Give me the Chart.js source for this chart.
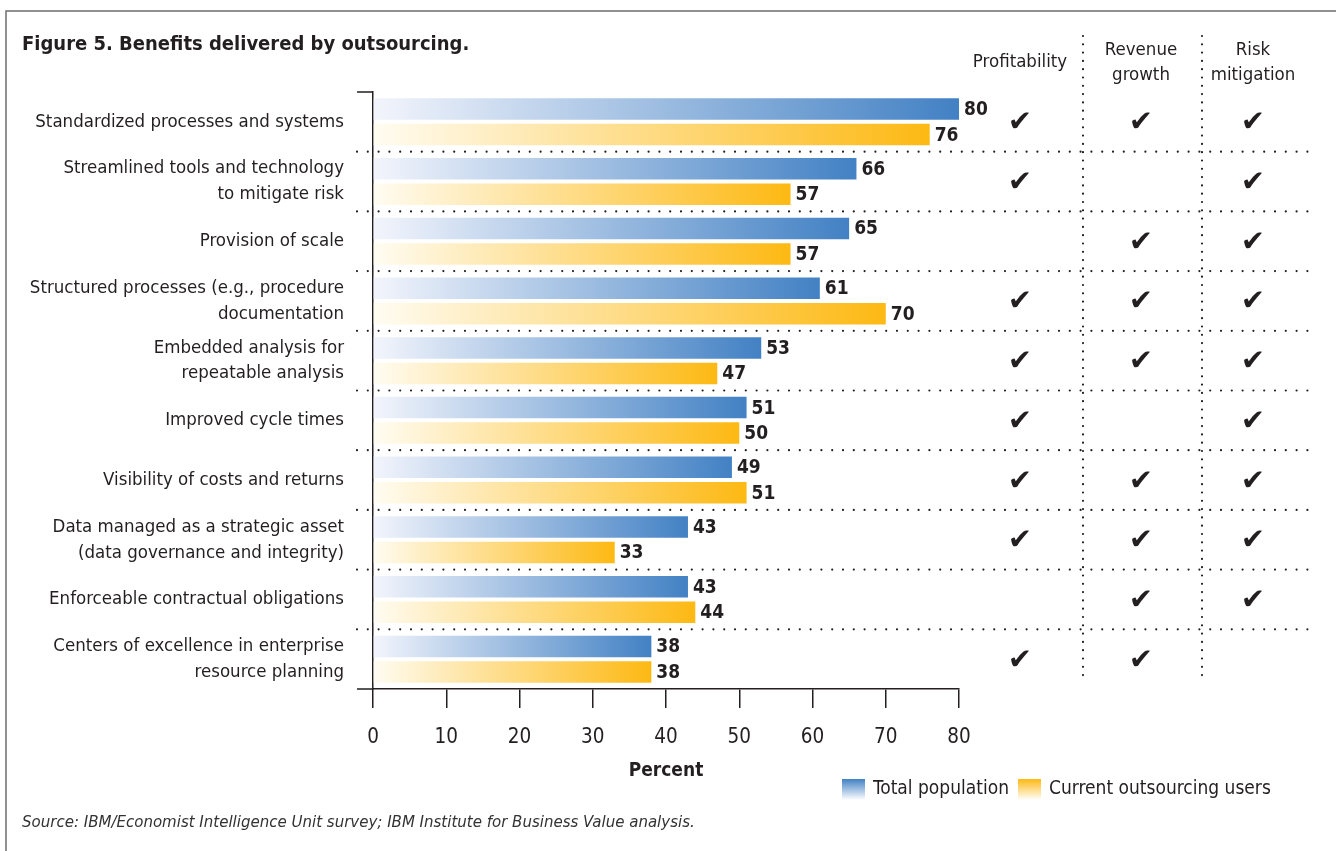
<!DOCTYPE html>
<html>
<head>
<meta charset="utf-8">
<script src="https://cdn.jsdelivr.net/npm/chart.js@4.4.1/dist/chart.umd.min.js"></script>
<style>
  html, body { margin: 0; padding: 0; background: #fff; }
  #wrap { width: 1336px; height: 851px; position: relative; }
</style>
</head>
<body>
<div id="wrap"><canvas id="benefitsChart"></canvas></div>
<script>
// ---- data ----
var categories = [
    "Standardized processes and systems",
    ["Streamlined tools and technology", "to mitigate risk"],
    "Provision of scale",
    ["Structured processes (e.g., procedure", "documentation"],
    ["Embedded analysis for", "repeatable analysis"],
    "Improved cycle times",
    "Visibility of costs and returns",
    ["Data managed as a strategic asset", "(data governance and integrity)"],
    "Enforceable contractual obligations",
    ["Centers of excellence in enterprise", "resource planning"]
];
var totalPopulation = [80, 66, 65, 61, 53, 51, 49, 43, 43, 38];
var currentUsers    = [76, 57, 57, 70, 47, 50, 51, 33, 44, 38];

var columnHeaders = [["Profitability"], ["Revenue", "growth"], ["Risk", "mitigation"]];
var profitability  = [1, 1, 0, 1, 1, 1, 1, 1, 0, 1];
var revenueGrowth  = [1, 0, 1, 1, 1, 0, 1, 1, 1, 1];
var riskMitigation = [1, 1, 1, 1, 1, 1, 1, 1, 1, 0];

var xTicks = [0, 10, 20, 30, 40, 50, 60, 70, 80];

var FONT = "'Liberation Sans Narrow', 'DejaVu Sans Condensed', 'Roboto', sans-serif";
var INK = "#231f20";
var BLUE = "#4281c4", BLUE_LIGHT = "#f3f5fc";
var GOLD = "#fdb913", GOLD_LIGHT = "#fffcf2";

function barGradient(endColor, startColor) {
    return function(c) {
        var chart = c.chart;
        if (!chart.chartArea || c.raw === undefined) return endColor;
        var xs = chart.scales.x;
        var x0 = xs.getPixelForValue(0);
        var x1 = xs.getPixelForValue(c.raw);
        var g = chart.ctx.createLinearGradient(x0, 0, x1, 0);
        g.addColorStop(0, startColor);
        g.addColorStop(1, endColor);
        return g;
    };
}

// everything outside the bars: separators, check columns, values, legend, source
var decorPlugin = {
    id: "decor",
    afterDraw: function(chart) {
        var ctx = chart.ctx;
        var area = chart.chartArea;
        var ys = chart.scales.y;
        var n = categories.length;
        var step = ys.getPixelForValue(1) - ys.getPixelForValue(0);

        ctx.save();

        // frame
        ctx.strokeStyle = "#6d6e71";
        ctx.lineWidth = 1.5;
        ctx.beginPath();
        ctx.moveTo(6, 851);
        ctx.lineTo(6, 11);
        ctx.lineTo(1336, 11);
        ctx.stroke();

        // small solid ticks at top and bottom of the y axis
        ctx.strokeStyle = INK;
        ctx.lineWidth = 1.5;
        ctx.beginPath();
        ctx.moveTo(357, area.top);
        ctx.lineTo(area.left, area.top);
        ctx.moveTo(357, area.bottom);
        ctx.lineTo(area.left, area.bottom);
        ctx.stroke();

        // dotted row separators
        ctx.lineCap = "round";
        ctx.lineWidth = 2.2;
        ctx.setLineDash([0, 10.8]);
        for (var i = 1; i < n; i++) {
            var yb = ys.getPixelForValue(i) - step / 2;
            ctx.beginPath();
            ctx.moveTo(357, yb);
            ctx.lineTo(1316, yb);
            ctx.stroke();
        }
        // dotted column dividers
        ctx.setLineDash([0, 8.3]);
        [1083, 1202].forEach(function(x) {
            ctx.beginPath();
            ctx.moveTo(x, 36);
            ctx.lineTo(x, 682);
            ctx.stroke();
        });
        ctx.setLineDash([]);

        // column headers
        var colX = [1020, 1141, 1253];
        ctx.fillStyle = INK;
        ctx.font = "18.5px " + FONT;
        ctx.textAlign = "center";
        ctx.textBaseline = "middle";
        columnHeaders.forEach(function(lines, c) {
            var y0 = lines.length === 1 ? 62 : 50;
            lines.forEach(function(t, k) {
                ctx.fillText(t, colX[c], y0 + k * 25);
            });
        });

        // check marks
        var cols = [profitability, revenueGrowth, riskMitigation];
        ctx.font = "29px 'DejaVu Sans', sans-serif";
        cols.forEach(function(arr, c) {
            arr.forEach(function(v, r) {
                if (v) ctx.fillText("\u2714", colX[c], ys.getPixelForValue(r) + 2);
            });
        });

        // value labels at bar ends
        ctx.font = "bold 19px " + FONT;
        ctx.textAlign = "left";
        chart.data.datasets.forEach(function(ds, d) {
            chart.getDatasetMeta(d).data.forEach(function(bar, j) {
                ctx.fillText(String(ds.data[j]), bar.x + 5, bar.y + 1);
            });
        });

        // legend with vertical gradient swatches
        var legend = [
            { x: 842, label: "Total population", color: BLUE },
            { x: 1018, label: "Current outsourcing users", color: GOLD }
        ];
        legend.forEach(function(item) {
            var g = ctx.createLinearGradient(0, 779, 0, 800);
            g.addColorStop(0, item.color);
            g.addColorStop(1, "#ffffff");
            ctx.fillStyle = g;
            ctx.fillRect(item.x, 779, 23, 21);
            ctx.fillStyle = INK;
            ctx.font = "19px " + FONT;
            ctx.fillText(item.label, item.x + 31, 789);
        });

        // source note
        ctx.fillStyle = "#333333";
        ctx.font = "italic 16.7px " + FONT;
        ctx.fillText("Source: IBM/Economist Intelligence Unit survey; IBM Institute for Business Value analysis.", 22, 823);

        ctx.restore();
    }
};

new Chart(document.getElementById("benefitsChart"), {
    type: "bar",
    data: {
        labels: categories,
        datasets: [{
            label: "Total population",
            data: totalPopulation,
            backgroundColor: barGradient(BLUE, BLUE_LIGHT),
            categoryPercentage: 0.854,
            barPercentage: 0.843
        }, {
            label: "Current outsourcing users",
            data: currentUsers,
            backgroundColor: barGradient(GOLD, GOLD_LIGHT),
            categoryPercentage: 0.854,
            barPercentage: 0.843
        }]
    },
    options: {
        indexAxis: "y",
        responsive: true,
        maintainAspectRatio: false,
        animation: false,
        layout: { padding: { left: 22, right: 377, top: 0, bottom: 62 } },
        plugins: {
            legend: { display: false },
            tooltip: { enabled: false },
            title: {
                display: true,
                text: "Figure 5. Benefits delivered by outsourcing.",
                align: "start",
                color: INK,
                font: { family: FONT, size: 20, weight: "bold" },
                padding: { top: 33, bottom: 35 }
            }
        },
        scales: {
            x: {
                min: 0,
                max: 80,
                afterBuildTicks: function(scale) {
                    scale.ticks = xTicks.map(function(v) { return { value: v }; });
                },
                afterFit: function(scale) { scale.height = 100; },
                grid: {
                    display: true,
                    drawOnChartArea: false,
                    drawTicks: true,
                    tickLength: 19,
                    color: INK,
                    lineWidth: 1.5
                },
                border: { display: true, color: INK, width: 1.5 },
                ticks: {
                    color: INK,
                    padding: 17,
                    font: { family: FONT, size: 20.5 }
                },
                title: {
                    display: true,
                    text: "Percent",
                    color: INK,
                    font: { family: FONT, size: 19, weight: "bold" },
                    padding: { top: 0, bottom: 7 }
                }
            },
            y: {
                afterFit: function(scale) { scale.width = 351; },
                grid: { display: false },
                border: { display: true, color: INK, width: 1.5 },
                ticks: {
                    color: INK,
                    padding: 21,
                    font: { family: FONT, size: 18.5, lineHeight: 1.4 }
                }
            }
        }
    },
    plugins: [decorPlugin]
});
</script>
</body>
</html>
